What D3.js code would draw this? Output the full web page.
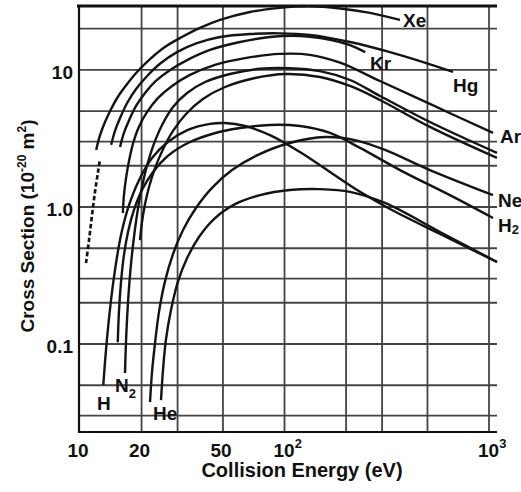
<!DOCTYPE html>
<html>
<head>
<meta charset="utf-8">
<script src="https://cdn.jsdelivr.net/npm/d3@7"></script>
<style>
  body { margin: 0; background: #fff; }
  text { font-family: "Liberation Sans", Arial, sans-serif; font-weight: bold; fill: #111; }
</style>
</head>
<body>
<div id="chart"></div>
<script>
// ----- data: [energy eV, cross section 1e-20 m2] -----
const xGrid = [20, 30, 50, 100, 200, 300, 500, 1000]
const yGrid = [0.03, 0.05, 0.1, 0.2, 0.3, 0.5, 1, 2, 3, 5, 10, 20]
const xTicks = [10, 20, 50, 100, 1000]
const xTickBase = ['10', '20', '50', '10', '10']
const xTickExp = ['', '', '', '2', '3']
const yTicks = [10, 1, 0.1]
const yTickLabels = ['10', '1.0', '0.1']

const xe = [[12.0, 2.61], [12.5, 3.30], [13.25, 4.17], [14.2, 5.19], [15.3, 6.35], [17.0, 7.90], [19.0, 9.67], [22.0, 12.0], [26.0, 14.7], [31.5, 17.4], [38.6, 20.3], [48.4, 23.2], [67.8, 26.5], [95, 28.4], [133, 29.1], [187, 28.1], [262, 26.1], [367, 23.2]]
const hgLow = [[10.7, 0.39], [11.07, 0.574], [11.45, 0.874], [11.84, 1.29], [12.25, 1.80], [12.5, 2.20]]
const hg = [[14.2, 2.84], [14.83, 3.59], [15.7, 4.46], [17.0, 5.74], [18.8, 7.27], [21.3, 9.04], [24.6, 11.1], [29.8, 13.5], [37.3, 15.7], [48.4, 17.4], [67.8, 18.3], [95, 18.5], [133, 18.0], [209, 16.0], [328, 13.5], [460, 11.6], [667, 9.67]]
const kr = [[15.7, 2.74], [16.4, 3.47], [17.4, 4.32], [18.8, 5.46], [20.8, 6.79], [23.5, 8.31], [27.6, 10.0], [33.4, 11.8], [43.2, 14.0], [60.6, 16.0], [84.9, 17.4], [119, 17.7], [167, 16.6], [209, 15.2], [248, 13.5]]
const ar = [[16.2, 0.904], [16.4, 1.22], [16.8, 1.63], [17.4, 2.20], [18.2, 2.93], [19.4, 3.84], [21.3, 4.94], [24.1, 6.25], [28.2, 7.64], [34.5, 9.2], [45.7, 10.9], [64.1, 12.2], [95, 13.1], [133, 12.9], [187, 11.3], [293, 8.31], [514, 5.65], [1046, 3.47]]
const n2 = [[16.6, 0.0614], [16.8, 0.107], [17.2, 0.21], [17.8, 0.397], [18.6, 0.703], [19.65, 1.18], [21.0, 1.86], [22.8, 2.79], [25.2, 3.97], [28.5, 5.37], [33.4, 6.79], [40.9, 8.17], [54.1, 9.35], [75.9, 10.2], [106, 10.3], [149, 9.8], [209, 8.45], [293, 6.46], [514, 4.17], [1094, 2.48]]
const other = [[19.65, 0.574], [20.1, 0.777], [20.8, 1.05], [21.75, 1.40], [23.3, 1.93], [25.5, 2.65], [28.5, 3.59], [33.0, 4.77], [39.9, 6.14], [51.2, 7.51], [71.7, 8.74], [101, 9.35], [149, 8.89], [209, 7.64], [293, 6.04], [514, 3.84], [1094, 2.28]]
const h = [[13.0, 0.0502], [13.4, 0.0904], [14.0, 0.177], [14.83, 0.347], [15.87, 0.625], [17.36, 1.03], [19.43, 1.57], [22.5, 2.28], [26.9, 2.98], [33.7, 3.65], [43.2, 4.04], [51.2, 4.10], [64.1, 3.90], [84.9, 3.35], [119, 2.52], [167, 1.80], [234, 1.29], [328, 0.967], [576, 0.635], [1094, 0.397]]
const h2 = [[15.3, 0.103], [15.5, 0.171], [15.87, 0.284], [16.4, 0.446], [17.17, 0.657], [18.36, 0.951], [20.1, 1.33], [22.75, 1.80], [26.9, 2.36], [33.7, 2.93], [44.2, 3.41], [60.6, 3.77], [84.9, 3.97], [119, 3.90], [167, 3.47], [234, 2.70], [367, 1.86], [644, 1.22], [1046, 0.831]]
const ne = [[22.0, 0.0377], [22.5, 0.0625], [23.3, 0.103], [24.33, 0.171], [26.0, 0.284], [28.5, 0.454], [31.9, 0.68], [36.9, 0.983], [44.2, 1.38], [55.4, 1.86], [74.2, 2.40], [106, 2.93], [158, 3.24], [221, 3.08], [310, 2.61], [514, 1.86], [1046, 1.22]]
const he = [[24.9, 0.039], [25.46, 0.0646], [26.3, 0.107], [27.86, 0.177], [30.1, 0.284], [33.4, 0.424], [38.17, 0.604], [45.2, 0.817], [57.3, 1.05], [75.9, 1.22], [106, 1.33], [149, 1.35], [209, 1.29], [310, 1.07], [576, 0.657], [1094, 0.397]]

// outer svg
const width = 521
const height = 492

// log scales, fitted to the frame of the picture
const xScale = d3.scaleLog().domain([10, 1094]).range([80, 497])
const yScale = d3.scaleLog().domain([0.0228, 29.3]).range([432, 6])

const svg = d3.select('#chart').append('svg').attr('width', width).attr('height', height)

// ----- grid -----
const grid = svg.append('g').attr('stroke', '#444').attr('stroke-width', 1.8)
grid.selectAll('.vg').data(xGrid).enter().append('line')
  .attr('x1', d => xScale(d)).attr('x2', d => xScale(d))
  .attr('y1', yScale.range()[1]).attr('y2', yScale.range()[0])
grid.selectAll('.hg').data(yGrid).enter().append('line')
  .attr('x1', xScale.range()[0]).attr('x2', xScale.range()[1])
  .attr('y1', d => yScale(d)).attr('y2', d => yScale(d))

// frame: top, left, bottom
const frame = svg.append('g').attr('stroke', '#111')
frame.append('line').attr('x1', 77).attr('x2', xScale.range()[1]).attr('y1', 6).attr('y2', 6).attr('stroke-width', 2.8)
frame.append('line').attr('x1', 79).attr('x2', 79).attr('y1', 5).attr('y2', 433).attr('stroke-width', 2.2)
frame.append('line').attr('x1', 78).attr('x2', xScale.range()[1]).attr('y1', 432).attr('y2', 432).attr('stroke-width', 2.2)

// ----- curves -----
const line = d3.line()
  .x(d => xScale(d[0]))
  .y(d => yScale(d[1]))
  .curve(d3.curveCatmullRom.alpha(0.5))

const curves = [xe, hg, kr, ar, n2, other, h, h2, ne, he]
svg.append('g').selectAll('path').data(curves).enter().append('path')
  .attr('d', line)
  .attr('fill', 'none')
  .attr('stroke', '#141414')
  .attr('stroke-width', 2.4)

// low-energy part of Hg, dashed
svg.append('path').attr('d', line(hgLow))
  .attr('fill', 'none').attr('stroke', '#141414')
  .attr('stroke-width', 2.7).attr('stroke-dasharray', '4.5,2.5')

// ----- curve labels -----
const labels = [
  { t: 'Xe', x: 403, y: 27 }, { t: 'Kr', x: 370, y: 70 }, { t: 'Hg', x: 453, y: 92 },
  { t: 'Ar', x: 500, y: 143 }, { t: 'Ne', x: 498, y: 207 }, { t: 'H', s: '2', x: 498, y: 232, dy: 2 },
  { t: 'H', x: 97, y: 410 }, { t: 'N', s: '2', x: 115, y: 392, dy: 6 }, { t: 'He', x: 153, y: 420 }
]
labels.forEach(l => {
  const txt = svg.append('text').attr('x', l.x).attr('y', l.y).attr('font-size', 19).text(l.t)
  if (l.s) txt.append('tspan').attr('font-size', 13).attr('dy', l.dy).text(l.s)
})

// ----- axes text -----
xTicks.forEach((v, i) => {
  const t = svg.append('text').attr('y', 457).attr('font-size', 19)
  if (xTickExp[i]) {
    t.attr('x', xScale(v) - 11).text(xTickBase[i])
    t.append('tspan').attr('font-size', 13).attr('dy', -9).text(xTickExp[i])
  } else {
    t.attr('x', xScale(v) - 2).attr('text-anchor', 'middle').text(xTickBase[i])
  }
})
yTicks.forEach((v, i) => {
  svg.append('text').attr('x', 73).attr('y', yScale(v) + 9)
    .attr('text-anchor', 'end').attr('font-size', 19).text(yTickLabels[i])
})

svg.append('text').attr('x', 302).attr('y', 477).attr('text-anchor', 'middle')
  .attr('font-size', 20).text('Collision Energy (eV)')

const yTitle = svg.append('text').attr('transform', 'translate(34,226) rotate(-90)')
  .attr('text-anchor', 'middle').attr('font-size', 19)
yTitle.append('tspan').text('Cross Section (10')
yTitle.append('tspan').attr('font-size', 12).attr('dy', -8).text('-20')
yTitle.append('tspan').attr('dy', 8).text(' m')
yTitle.append('tspan').attr('font-size', 12).attr('dy', -8).text('2')
yTitle.append('tspan').attr('dy', 8).text(')')
</script>
</body>
</html>
